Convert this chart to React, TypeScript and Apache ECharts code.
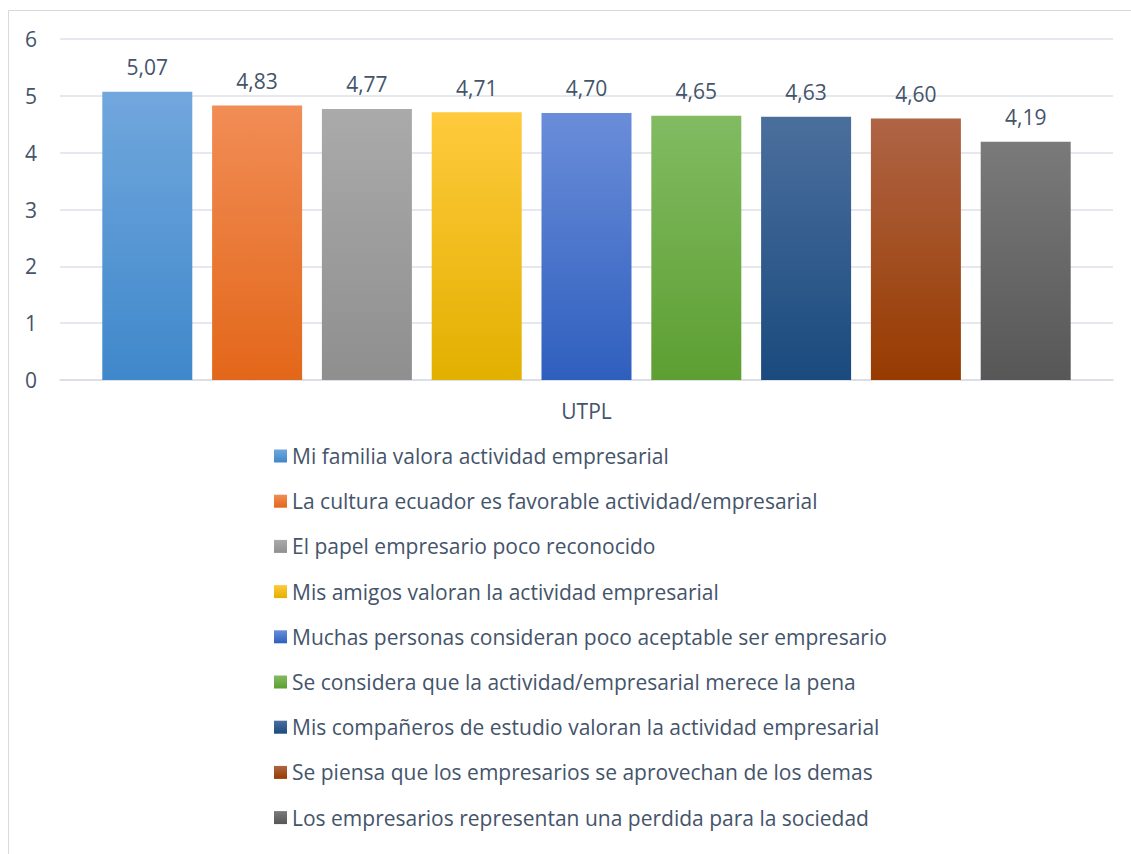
import React, { useEffect, useRef } from "react";
import * as echarts from "echarts";

const categories = ["UTPL"];
const seriesNames = [
  "Mi familia valora actividad empresarial",
  "La cultura ecuador es favorable actividad/empresarial",
  "El papel empresario poco reconocido",
  "Mis amigos valoran la actividad empresarial",
  "Muchas personas consideran poco aceptable ser empresario",
  "Se considera que la actividad/empresarial merece la pena",
  "Mis compañeros de estudio valoran la actividad empresarial",
  "Se piensa que los empresarios se aprovechan de los demas",
  "Los empresarios representan una perdida para la sociedad",
];
const seriesValues = [5.07, 4.83, 4.77, 4.71, 4.7, 4.65, 4.63, 4.6, 4.19];
const yTicks = [0, 1, 2, 3, 4, 5, 6];
const gradientTops = ["#71A7DD", "#F18D56", "#AAAAAA", "#FFCA3C", "#6A8DD9", "#82BB62", "#4B6F9D", "#AF6445", "#7A7A7A"];
const gradientBottoms = ["#3F88CB", "#E3671A", "#8F8F8F", "#E2B000", "#2F5FBE", "#5D9F32", "#1A4A7E", "#973B00", "#575757"];

const textColor = "#44546A";
const font = "'Open Sans', 'Noto Sans', sans-serif";
const fs = 21;

export default function App() {
  const ref = useRef<HTMLDivElement>(null);
  useEffect(() => {
    if (!ref.current) return;
    const chart = echarts.init(ref.current, undefined, { renderer: "svg" });
    const series = seriesNames.map((name, i) => ({
      type: "bar",
      name,
      data: [seriesValues[i]],
      barWidth: 90,
      barGap: "22%",
      itemStyle: {
        color: new echarts.graphic.LinearGradient(0, 0, 0, 1, [
          { offset: 0, color: gradientTops[i] },
          { offset: 1, color: gradientBottoms[i] },
        ]),
      },
      label: {
        show: true,
        position: "top",
        distance: 14,
        color: textColor,
        fontSize: fs,
        fontFamily: font,
        formatter: (p: any) => Number(p.value).toFixed(2).replace(".", ","),
      },
    }));
    chart.setOption({
      animation: false,
      backgroundColor: "#FFFFFF",
      textStyle: { fontFamily: font },
      graphic: [
        {
          type: "rect",
          shape: { x: 8.5, y: 10.5, width: 1130, height: 850 },
          style: { fill: "none", stroke: "#D9D9D9", lineWidth: 1 },
          silent: true,
        },
      ],
      grid: { left: 60, right: 18, top: 39, bottom: 474, containLabel: false },
      xAxis: {
        type: "category",
        data: categories,
        axisLine: { show: true, lineStyle: { color: "#D9DDE4", width: 1.5 } },
        axisTick: { show: false },
        axisLabel: { color: textColor, fontSize: fs, fontFamily: font, margin: 20 },
      },
      yAxis: {
        type: "value",
        min: yTicks[0],
        max: yTicks[yTicks.length - 1],
        interval: 1,
        axisLine: { show: false },
        axisTick: { show: false },
        axisLabel: { color: textColor, fontSize: fs, fontFamily: font, margin: 23 },
        splitLine: { lineStyle: { color: "#DDE1E8", width: 1.5 } },
      },
      legend: {
        orient: "vertical",
        left: 274,
        top: 445,
        padding: 0,
        itemWidth: 13,
        itemHeight: 13,
        itemGap: 23.2,
        icon: "rect",
        textStyle: { color: textColor, fontSize: fs, fontFamily: font, lineHeight: 22 },
        data: seriesNames,
      },
      series,
    });
    return () => chart.dispose();
  }, []);
  return (
    <div
      ref={ref}
      style={{ position: "absolute", left: 0, top: 0, width: 1131, height: 854 }}
    />
  );
}
